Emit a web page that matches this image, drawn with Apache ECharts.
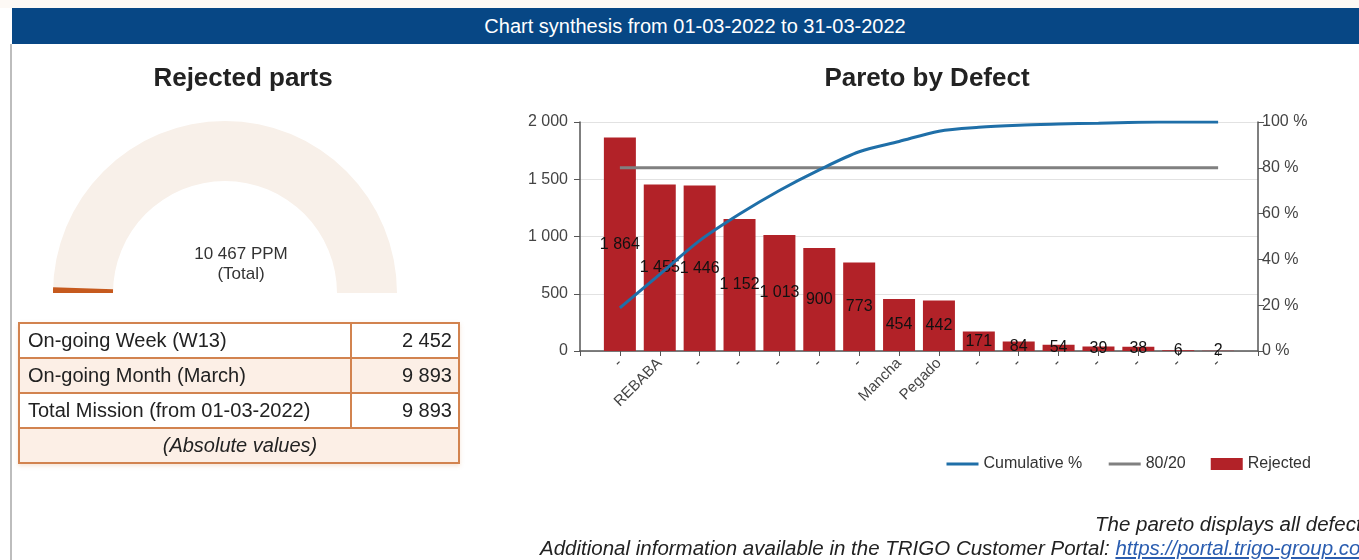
<!DOCTYPE html>
<html><head><meta charset="utf-8">
<script src="https://cdn.jsdelivr.net/npm/echarts@6/dist/echarts.min.js"></script>
<style>
html,body{margin:0;padding:0;width:1359px;height:560px;overflow:hidden;background:#fff;font-family:"Liberation Sans",Arial,sans-serif;}
#top{position:absolute;left:0;top:0;width:1359px;height:8px;background:#fdf9f5;}
#hdr{position:absolute;left:12px;top:8px;width:1366px;height:36px;background:#074785;color:#fff;font-size:20px;line-height:36px;text-align:center;white-space:nowrap;}
#vline{position:absolute;left:10px;top:44px;width:2px;height:516px;background:#bdbdbd;}
#chart{position:absolute;left:0;top:0;width:1359px;height:560px;}
#tbl{position:absolute;left:18px;top:322px;border-collapse:collapse;width:442px;font-size:20px;color:#222;box-shadow:0 2px 4px rgba(220,150,100,0.25);}
#tbl td{border:2px solid #d2834f;height:33px;padding:0 6px 0 8px;white-space:nowrap;}
#tbl td.v{text-align:right;width:92px;}
#tbl tr.alt td{background:#fcefe6;}
#tbl td.abs{text-align:center;font-style:italic;}
.foot{position:absolute;white-space:nowrap;font-style:italic;font-size:20.5px;color:#222;}
.foot a{color:#2a5db0;text-decoration:underline;}
</style></head>
<body>
<div id="top"></div>
<div id="hdr">Chart synthesis from 01-03-2022 to 31-03-2022</div>
<div id="vline"></div>
<div id="chart"></div>
<table id="tbl">
<tr><td>On-going Week (W13)</td><td class="v">2 452</td></tr>
<tr class="alt"><td>On-going Month (March)</td><td class="v">9 893</td></tr>
<tr><td>Total Mission (from 01-03-2022)</td><td class="v">9 893</td></tr>
<tr class="alt"><td class="abs" colspan="2">(Absolute values)</td></tr>
</table>
<div class="foot" style="left:1095px;top:512px;">The pareto displays all defects</div>
<div class="foot" style="left:540px;top:536px;">Additional information available in the TRIGO Customer Portal: <a>https://portal.trigo-group.com</a></div>
<script>
// ---- data ----
const categories = ['-', 'REBABA', '-', '-', '-', '-', '-', 'Mancha', 'Pegado', '-', '-', '-', '-', '-', '-', '-'];
const rejected = [1864, 1455, 1446, 1152, 1013, 900, 773, 454, 442, 171, 84, 54, 39, 38, 6, 2];
const cumulativePct = [18.8, 33.5, 48.2, 59.8, 70.1, 79.1, 87.0, 91.5, 96.0, 97.7, 98.6, 99.1, 99.5, 99.9, 99.98, 100];
const threshold = [80, 80, 80, 80, 80, 80, 80, 80, 80, 80, 80, 80, 80, 80, 80, 80];
const leftTicks = [0, 500, 1000, 1500, 2000];
const rightTicks = [0, 20, 40, 60, 80, 100];
const gaugePPM = 10467;
const gaugeMax = 1000000;

const fmt = v => String(v).replace(/\B(?=(\d{3})+(?!\d))/g, ' ');
const pairs = arr => arr.map((v, i) => [i, v]);

const chart = echarts.init(document.getElementById('chart'), null, {renderer: 'canvas'});
const font = '"Liberation Sans", Arial, sans-serif';
chart.setOption({
  animation: false,
  textStyle: {fontFamily: font},
  title: [
    {text: 'Rejected parts', left: 238, top: 61, textAlign: 'center',
     textStyle: {fontSize: 26, fontWeight: 'bold', color: '#222', fontFamily: font}},
    {text: 'Pareto by Defect', left: 922, top: 61, textAlign: 'center',
     textStyle: {fontSize: 26, fontWeight: 'bold', color: '#222', fontFamily: font}}
  ],
  legend: {
    left: 940, top: 451, itemWidth: 32, itemHeight: 12, itemGap: 25,
    textStyle: {fontSize: 16, color: '#333', fontFamily: font},
    data: [
      {name: 'Cumulative %', itemStyle: {opacity: 0}, lineStyle: {width: 3}},
      {name: '80/20', itemStyle: {opacity: 0}, lineStyle: {width: 3}},
      {name: 'Rejected', icon: 'rect'}
    ]
  },
  grid: {left: 580, right: 101, top: 122, bottom: 209},
  xAxis: {
    type: 'value', min: -1, max: 16, interval: 1,
    axisLine: {show: true, onZero: false, lineStyle: {color: '#555', width: 1.5}},
    axisTick: {show: true, length: 5, lineStyle: {color: '#555'}},
    splitLine: {show: false},
    axisLabel: {rotate: 45, fontSize: 15, color: '#444', margin: 10, fontFamily: font,
      formatter: v => (categories[v] !== undefined ? categories[v] : '')}
  },
  yAxis: [
    {type: 'value', min: leftTicks[0], max: leftTicks[leftTicks.length - 1], interval: 500,
     axisLine: {show: true, onZero: false, lineStyle: {color: '#555', width: 1.5}},
     axisTick: {show: true, length: 6, lineStyle: {color: '#555'}},
     splitLine: {show: true, lineStyle: {color: '#e2e2e2'}},
     axisLabel: {fontSize: 16, color: '#444', margin: 12, fontFamily: font, formatter: v => fmt(v)}},
    {type: 'value', min: rightTicks[0], max: rightTicks[rightTicks.length - 1], interval: 20,
     axisLine: {show: true, onZero: false, lineStyle: {color: '#555', width: 1.5}},
     axisTick: {show: true, length: 6, lineStyle: {color: '#555'}},
     splitLine: {show: false},
     axisLabel: {fontSize: 16, color: '#444', margin: 4, fontFamily: font, formatter: v => v + ' %'}}
  ],
  series: [
    {
      type: 'gauge', center: [225, 293], radius: 172, startAngle: 180, endAngle: 0,
      min: 0, max: gaugeMax,
      axisLine: {lineStyle: {width: 60, color: [[1, '#f8f0e9']]}},
      progress: {show: true, width: 60, itemStyle: {color: '#c65a1e'}},
      pointer: {show: false}, axisTick: {show: false}, splitLine: {show: false}, axisLabel: {show: false},
      anchor: {show: false}, title: {show: false},
      detail: {offsetCenter: [16, -29], fontSize: 17, fontWeight: 'normal', lineHeight: 20, color: '#333', fontFamily: font,
        formatter: v => fmt(v) + ' PPM\n(Total)'},
      data: [{value: gaugePPM}]
    },
    {
      name: 'Rejected', type: 'bar', barWidth: 32, xAxisIndex: 0, yAxisIndex: 0,
      itemStyle: {color: '#b22228'},
      label: {show: true, position: 'inside', color: '#111', fontSize: 16, fontFamily: font,
        formatter: p => fmt(p.value[1])},
      data: pairs(rejected), z: 2
    },
    {
      name: '80/20', type: 'line', yAxisIndex: 1, symbol: 'none',
      lineStyle: {color: '#808080', width: 3}, itemStyle: {color: '#808080'},
      data: pairs(threshold), z: 3
    },
    {
      name: 'Cumulative %', type: 'line', yAxisIndex: 1, symbol: 'none', smooth: 0.3,
      lineStyle: {color: '#1f6fa8', width: 3}, itemStyle: {color: '#1f6fa8'},
      data: pairs(cumulativePct), z: 4
    }
  ]
});
</script>
</body></html>
